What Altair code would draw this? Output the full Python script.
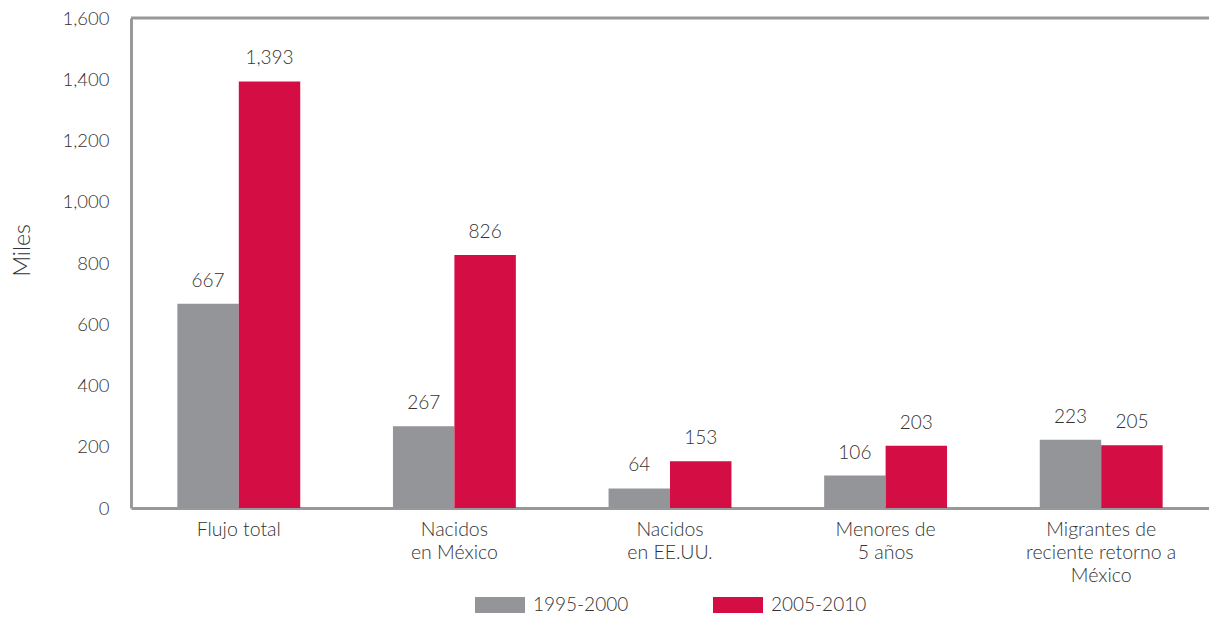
import altair as alt
import pandas as pd

categories = ["Flujo total", "Nacidos en México", "Nacidos en EE.UU.", "Menores de 5 años",
              "Migrantes de reciente retorno a México"]
label_lines = [["Flujo total"], ["Nacidos", "en México"], ["Nacidos", "en EE.UU."],
               ["Menores de", "5 años"], ["Migrantes de", "reciente retorno a", "México"]]
periods = ["1995-2000", "2005-2010"]
values_1995 = [667, 267, 64, 106, 223]
values_2005 = [1393, 826, 153, 203, 205]
colors = ["#939598", "#D40E44"]
y_ticks = [0, 200, 400, 600, 800, 1000, 1200, 1400, 1600]

rows = []
for c, a, b in zip(categories, values_1995, values_2005):
    rows.append({"cat": c, "period": periods[0], "value": a})
    rows.append({"cat": c, "period": periods[1], "value": b})
df = pd.DataFrame(rows)

expr = ""
for c, lines in zip(categories, label_lines):
    arr = "[" + ",".join("'" + l + "'" for l in lines) + "]"
    expr += f"datum.label == '{c}' ? {arr} : "
expr += "datum.label"

W, H = 1078, 490
FONT = "Lato"
FW = 300
TXT = "#333333"

x = alt.X("cat:N", sort=categories, title=None,
          scale=alt.Scale(paddingInner=0.43, paddingOuter=0.215),
          axis=alt.Axis(labelExpr=expr, labelAngle=0, ticks=False, domainColor="#999999",
                        domainWidth=3, labelFontSize=19.5, labelColor=TXT, labelFont=FONT,
                        labelFontWeight=FW,
                        labelPadding=12, labelLineHeight=23, labelBaseline="top"))
xo = alt.XOffset("period:N", sort=periods, scale=alt.Scale(paddingInner=0, paddingOuter=0))
y = alt.Y("value:Q", scale=alt.Scale(domain=[0, 1600], nice=False),
          axis=alt.Axis(values=y_ticks, format=",d", grid=False, ticks=False,
                        domainColor="#999999", domainWidth=3, labelFontSize=18.5,
                        labelColor=TXT, labelFont=FONT, labelFontWeight=FW, labelPadding=22,
                        title="Miles", titleFontSize=23, titleFont=FONT, titleColor=TXT,
                        titleFontWeight=FW, titleX=-109, titleY=232, titleAngle=-90,
                        titleAlign="center", titleBaseline="middle"))

bars = alt.Chart(df).mark_bar().encode(
    x=x, xOffset=xo, y=y,
    color=alt.Color("period:N", sort=periods,
                    scale=alt.Scale(domain=periods, range=colors),
                    legend=alt.Legend(title=None, orient="none", legendX=344, legendY=562,
                                      direction="horizontal",
                                      symbolType="M-1,-0.32H1V0.32H-1Z", symbolSize=2500,
                                      symbolStrokeWidth=0, symbolOpacity=1,
                                      labelFontSize=19, labelFont=FONT, labelColor=TXT,
                                      labelFontWeight=FW,
                                      labelOffset=8, columnPadding=84))
)

text = alt.Chart(df).mark_text(baseline="bottom", dy=-13, fontSize=19, font=FONT,
                               fontWeight=FW, color=TXT).encode(
    x=x, xOffset=xo, y=y, text=alt.Text("value:Q", format=",d")
)

top = alt.Chart(pd.DataFrame({"v": [1600]})).mark_rule(color="#999999", strokeWidth=3).encode(
    y=alt.datum(1600),
    x=alt.value(0), x2=alt.value(W)
)

chart = alt.layer(bars, text, top).properties(
    width=W, height=H,
    autosize=alt.AutoSizeParams(type="none"),
    padding={"left": 123, "top": 10, "right": 0, "bottom": 108},
).configure_view(stroke=None).configure(font=FONT)

chart.save("out.html", embed_options={"renderer": "svg", "actions": False})
